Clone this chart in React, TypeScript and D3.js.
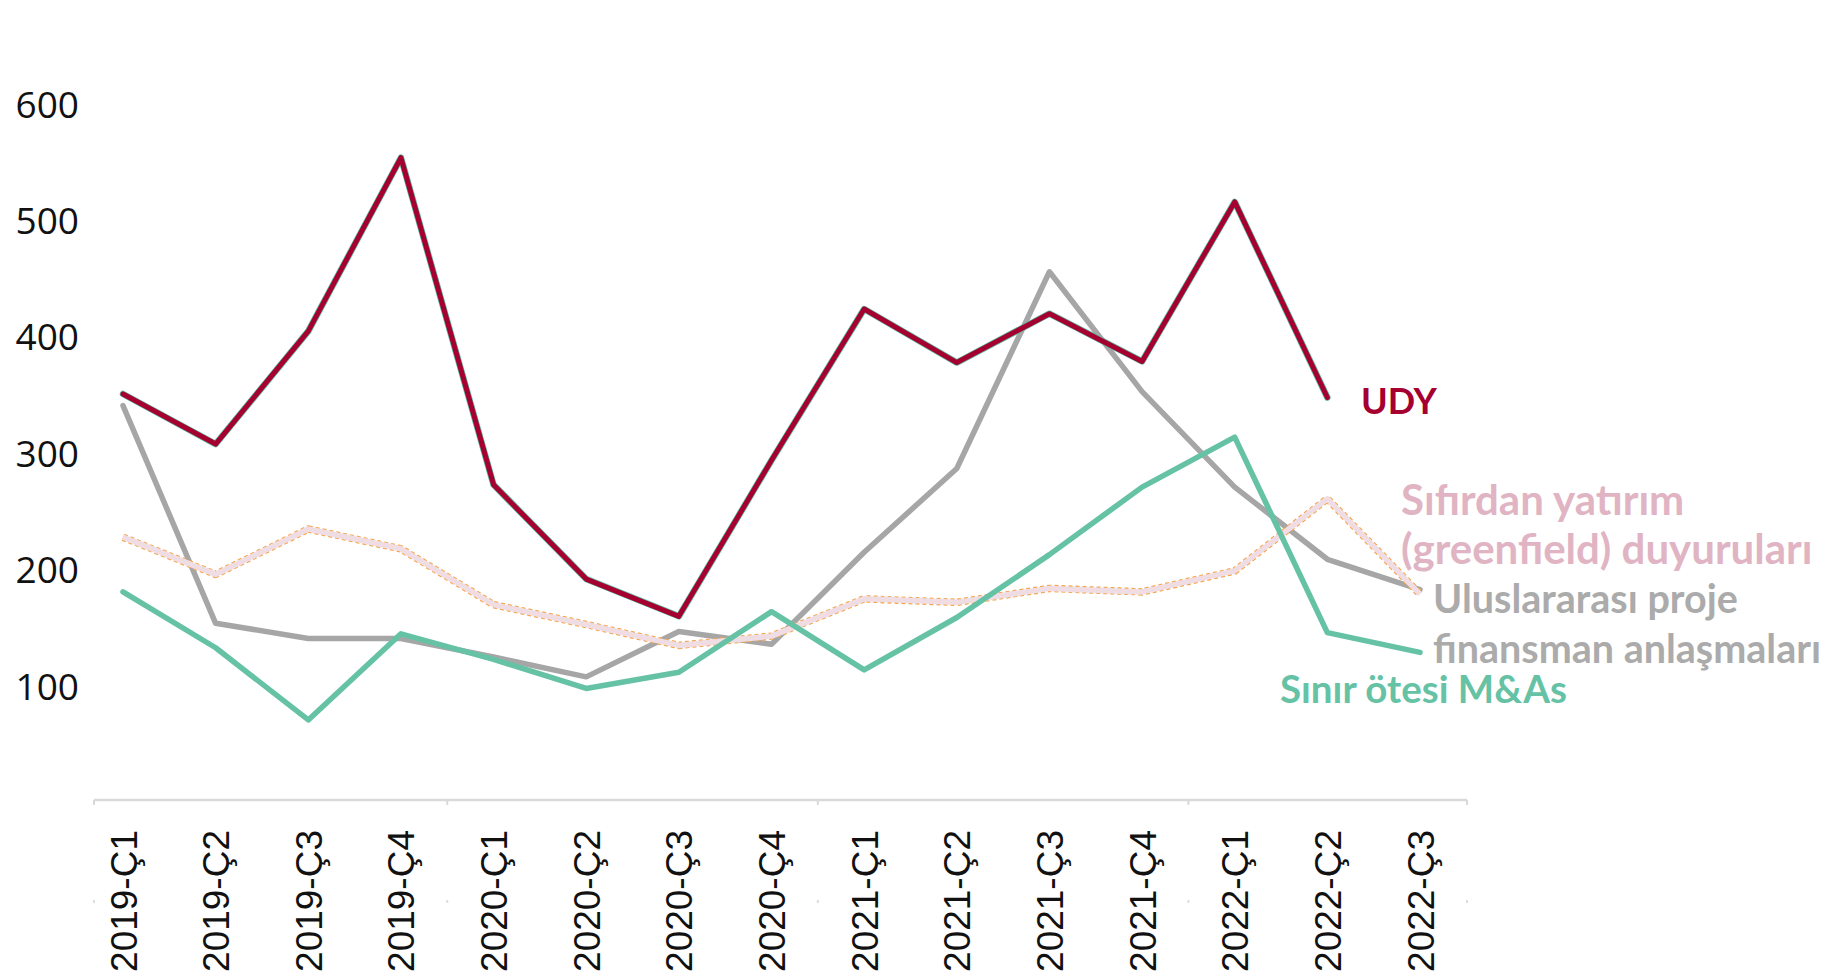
import React from "react";
import * as d3 from "d3";

const quarters = [
  "2019-Ç1", "2019-Ç2", "2019-Ç3", "2019-Ç4",
  "2020-Ç1", "2020-Ç2", "2020-Ç3", "2020-Ç4",
  "2021-Ç1", "2021-Ç2", "2021-Ç3", "2021-Ç4",
  "2022-Ç1", "2022-Ç2", "2022-Ç3",
];

const udy: (number | null)[] = [350, 307, 404, 553, 272, 191, 159, 293, 423, 377, 419, 378, 515, 347, null];
const projeFinansman: (number | null)[] = [340, 153, 140, 140, 124, 107, 146, 135, 214, 286, 455, 352, 270, 208, 182];
const sinirOtesi: (number | null)[] = [180, 132, 70, 144, 122, 97, 111, 163, 113, 158, 212, 270, 313, 145, 128];
const greenfield: (number | null)[] = [227, 195, 234, 217, 169, 152, 134, 142, 174, 171, 183, 180, 198, 260, 178];

const yTicks = [100, 200, 300, 400, 500, 600];

const W = 1836;
const H = 979;

export default function App() {
  const x = d3.scalePoint<string>().domain(quarters).range([123, 1420]);
  const y = d3.scaleLinear().domain([100, 600]).range([685, 103]);

  const mk = (arr: (number | null)[]) =>
    d3
      .line<number | null>()
      .defined((d) => d != null)
      .x((_, i) => x(quarters[i]) as number)
      .y((d) => y(d as number))(arr) || "";

  const step = x.step();
  const boundaries = [3, 7, 11].map((i) => (x(quarters[i]) as number) + step / 2);
  const axisX0 = 94;
  const axisX1 = 1467;
  const axisY = 800;

  const labelFont = "Lato, 'Open Sans', sans-serif";

  return (
    <svg
      width={W}
      height={H}
      style={{ position: "absolute", left: 0, top: 0, display: "block", background: "#fff" }}
    >
      {/* y tick labels */}
      {yTicks.map((t) => (
        <text
          key={t}
          x={79}
          y={y(t)}
          textAnchor="end"
          dominantBaseline="central"
          fontFamily="'Open Sans', sans-serif"
          fontSize={37}
          fill="#111"
        >
          {t}
        </text>
      ))}

      {/* x axis */}
      <line x1={axisX0} x2={axisX1} y1={axisY} y2={axisY} stroke="#D9D9D9" strokeWidth={2.5} />
      {[axisX0, ...boundaries, axisX1].map((bx, i) => (
        <g key={i}>
          <line x1={bx} x2={bx} y1={axisY} y2={axisY + 5} stroke="#D9D9D9" strokeWidth={2} />
          <line x1={bx} x2={bx} y1={axisY + 100} y2={axisY + 103} stroke="#DDDDDD" strokeWidth={2} />
        </g>
      ))}
      {quarters.map((q) => (
        <text
          key={q}
          transform={`translate(${(x(q) as number) + 1},830) rotate(-90)`}
          textAnchor="end"
          dominantBaseline="central"
          fontFamily="'Liberation Sans', Arial, sans-serif"
          fontSize={37}
          fill="#111"
        >
          {q}
        </text>
      ))}

      {/* lines */}
      <path d={mk(projeFinansman)} fill="none" stroke="#A6A6A6" strokeWidth={5.5} strokeLinejoin="round" strokeLinecap="round" />
      <path d={mk(greenfield)} fill="none" stroke="#F5A34A" strokeWidth={7.5} strokeDasharray="4 3" strokeLinejoin="round" />
      <path d={mk(greenfield)} fill="none" stroke="#F0DDE3" strokeWidth={5.5} strokeLinejoin="round" />
      <path d={mk(sinirOtesi)} fill="none" stroke="#66C2A5" strokeWidth={5.5} strokeLinejoin="round" strokeLinecap="round" />
      <path d={mk(udy)} fill="none" stroke="#5FB9A0" strokeWidth={6.5} strokeLinejoin="round" strokeLinecap="round" />
      <path d={mk(udy)} fill="none" stroke="#A50030" strokeWidth={5} strokeLinejoin="round" strokeLinecap="round" />

      {/* series labels */}
      <g fontFamily={labelFont} fontWeight={700}>
        <text x={1361} y={400} fontSize={36} dominantBaseline="central" fill="#A50030">UDY</text>
        <text x={1401} y={499} fontSize={42} dominantBaseline="central" fill="#E0B4C3">Sıfırdan yatırım</text>
        <text x={1401} y={548} fontSize={42} dominantBaseline="central" fill="#E0B4C3">(greenfield) duyuruları</text>
        <text x={1433} y={597} fontSize={39.5} dominantBaseline="central" fill="#ABABAB">Uluslararası proje</text>
        <text x={1433} y={647} fontSize={39.5} dominantBaseline="central" fill="#ABABAB">finansman anlaşmaları</text>
        <text x={1280} y={688} fontSize={38.5} dominantBaseline="central" fill="#66C2A5">Sınır ötesi M&amp;As</text>
      </g>
    </svg>
  );
}
